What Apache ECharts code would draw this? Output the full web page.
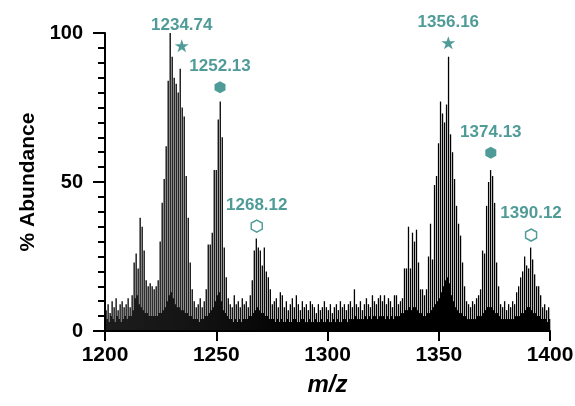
<!DOCTYPE html>
<html>
<head>
<meta charset="utf-8">
<script src="https://cdn.jsdelivr.net/npm/echarts@6/dist/echarts.min.js"></script>
<style>html,body{margin:0;padding:0;background:#fff}#c{width:575px;height:406px}</style>
</head>
<body>
<div id="c"></div>
<script>
// m/z sampling grid of the main sticks
var mzStart = 1200.5;
var mzStep = 0.9;
// main stick intensities (% abundance)
var mainInt = [
 7, 9, 6,10, 8,11, 7, 9,10, 8,
 9,11, 8,12,23,26,21,38,35,27,
17,15,16,15,14,15,17,30,43,51,
62,84,100,92,85,83,80,88,75,72,
52,38,23,14,10, 8, 9,11, 8,10,
14,29,29,33,54,54,71,77,65,28,
18,11, 9, 8,12, 9,10, 8,11, 9,
10, 8,12,17,27,31,28,27,22,28,
20,18,14, 9,10,11, 8,13,12, 8,
10, 7, 9,11, 8,12, 9, 7,10, 8,
 9, 7,10, 9, 8, 6, 9, 7, 8,10,
 8, 7, 9, 6, 8, 9, 7,10, 8, 9,
 7, 9,10, 8,14, 9, 8,10, 7, 9,
11, 9, 8,12,10, 9,11,12,10,12,
 9,11,10, 8,12,12, 9,10,11,21,
21,35,21,33,30,34,23,14,14,12,
14,25,36,24,49,52,63,77,73,70,
76,92,66,60,51,42,36,32,23,15,
10, 9, 8,10, 9,11,12,14,27,26,
42,50,54,52,43,23,15, 9, 8,10,
 7, 9, 8,10, 9,13,15,18,20,25,
22,21,28,24,19,15,15,12, 8, 9,
 7, 8
];
// low-level dense peaks between the main sticks (offset by half a step)
var fillOffset = 0.45;
var fillInt = [
 4, 3, 5, 4, 3, 5, 4, 3, 4, 5,
 4, 5, 5, 7,11,12, 9, 8, 7, 6,
 6, 5, 5, 5, 5, 5, 6, 6, 7, 8,
10,12,13,11, 9, 8, 8, 7, 7, 6,
 6, 5, 5, 4, 4, 4, 3, 4, 4, 5,
 5, 6, 7, 8,10,12,13,10, 7, 6,
 5, 4, 4, 3, 4, 3, 4, 3, 4, 4,
 4, 5, 5, 6, 7, 8, 7, 6, 6, 5,
 5, 4, 4, 4, 3, 4, 3, 4, 3, 3,
 4, 3, 3, 4, 4, 3, 3, 4, 4, 3,
 3, 4, 3, 3, 4, 3, 3, 4, 3, 3,
 4, 3, 3, 4, 3, 4, 3, 3, 4, 4,
 3, 4, 4, 4, 5, 4, 4, 4, 4, 5,
 4, 5, 4, 5, 5, 4, 5, 5, 5, 4,
 5, 4, 5, 4, 5, 5, 5, 6, 6, 7,
 7, 8, 7, 8, 8, 7, 6, 6, 5, 5,
 6, 6, 7, 8, 9,10,11,13,15,17,
18,16,12,10, 8, 7, 6, 6, 5, 5,
 4, 4, 4, 4, 4, 5, 5, 5, 6, 7,
 8, 8, 8, 7, 6, 6, 5, 4, 4, 4,
 4, 4, 4, 4, 5, 5, 5, 6, 6, 7,
 8, 8, 7, 6, 6, 5, 5, 4, 4, 4,
 3, 4
];
// annotations
var annotText = ['1234.74','1252.13','1268.12','1356.16','1374.13','1390.12'];
var annotMz   = [1234.5, 1251.7, 1268.2, 1354.3, 1373.4, 1391.5];
var annotY    = [95.7, 81.8, 35.2, 96.7, 59.8, 32.2];
var annotKind = ['star','hexFilled','hexOpen','star','hexFilled','hexOpen'];
var xTicks = [1200, 1250, 1300, 1350, 1400];
var yTicks = [0, 50, 100];

var TEAL = '#23827e';
var FONT = '"Liberation Sans", Arial, Helvetica, sans-serif';
var STAR = 'path://M0,-1000 L224,-309 L951,-309 L363,118 L588,809 L0,382 L-588,809 L-363,118 L-951,-309 L-224,-309 Z';
var HEX = 'path://M0,-1000 L866,-500 L866,500 L0,1000 L-866,500 L-866,-500 Z';

var sticks = [];
for (var i = 0; i < mainInt.length; i++) sticks.push([mzStart + mzStep * i, mainInt[i]]);
for (var j = 0; j < fillInt.length; j++) sticks.push([mzStart + fillOffset + mzStep * j, fillInt[j]]);

var annData = annotText.map(function (t, k) {
  var kind = annotKind[k];
  return {
    value: [annotMz[k], annotY[k]],
    name: t,
    symbol: kind === 'star' ? STAR : HEX,
    symbolSize: kind === 'star' ? [14, 13] : [11, 12],
    itemStyle: kind === 'hexOpen'
      ? { color: '#fff', borderColor: TEAL, borderWidth: 1.5 }
      : { color: TEAL }
  };
});

var chart = echarts.init(document.getElementById('c'), null, { renderer: 'canvas' });
chart.setOption({
  animation: false,
  backgroundColor: '#fff',
  grid: { left: 105, right: 25, top: 33, bottom: 75, containLabel: false, outerBoundsMode: 'none' },
  xAxis: {
    type: 'value', min: xTicks[0], max: xTicks[xTicks.length - 1], interval: 50,
    name: 'm/z', nameLocation: 'middle', nameGap: 42,
    nameTextStyle: { fontFamily: FONT, fontSize: 24, fontWeight: 'bold', fontStyle: 'italic', color: '#000' },
    axisLine: { show: true, onZero: false, lineStyle: { color: '#000', width: 2 } },
    axisTick: { show: true, length: 10, lineStyle: { color: '#000', width: 2 } },
    axisLabel: { fontFamily: FONT, fontSize: 21, fontWeight: 'bold', color: '#000', margin: 14,
      formatter: function (v) { return String(v); } },
    splitLine: { show: false }
  },
  yAxis: {
    type: 'value', min: yTicks[0], max: yTicks[yTicks.length - 1], interval: 50,
    name: '% Abundance', nameLocation: 'middle', nameGap: 64, nameRotate: 90,
    nameTextStyle: { fontFamily: FONT, fontSize: 21, fontWeight: 'bold', color: '#000' },
    axisLine: { show: true, lineStyle: { color: '#000', width: 2 } },
    axisTick: { show: true, length: 12, lineStyle: { color: '#000', width: 2 } },
    minorTick: { show: true, splitNumber: 10, length: 7, lineStyle: { color: '#000', width: 2 } },
    axisLabel: { fontFamily: FONT, fontSize: 20, fontWeight: 'bold', color: '#000', margin: 22 },
    splitLine: { show: false }, minorSplitLine: { show: false }
  },
  series: [
    {
      type: 'bar', data: sticks, barWidth: 1.3, large: false,
      itemStyle: { color: '#000' }, silent: true, clip: true
    },
    {
      type: 'scatter', data: annData, z: 5, silent: true,
      label: {
        show: true, position: 'top', distance: 6,
        formatter: function (p) { return p.name; },
        fontFamily: FONT, fontSize: 17, fontWeight: 'bold', color: TEAL
      }
    }
  ]
});
</script>
</body>
</html>
